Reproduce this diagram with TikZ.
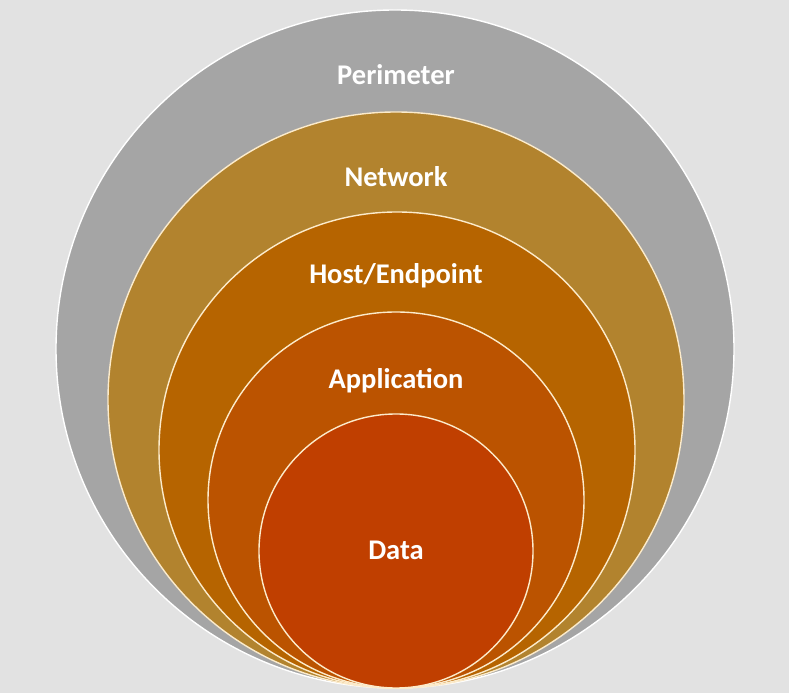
\documentclass[tikz,border=0pt]{standalone}
\usepackage{fontspec}
\setmainfont{Carlito}

\definecolor{bgGrey}{HTML}{E2E2E2}
\definecolor{perimGrey}{HTML}{A5A5A5}
\definecolor{netTan}{HTML}{B2832E}
\definecolor{hostAmber}{HTML}{B66400}
\definecolor{appOrange}{HTML}{BB5300}
\definecolor{dataRed}{HTML}{C03F00}
\definecolor{rimCream}{HTML}{FCEBCB}

\tikzset{
  layer/.style={circle, inner sep=0pt, line width=1.4pt},
  layertext/.style={text=white, font=\bfseries\fontsize{28.5}{32}\selectfont}
}

\begin{document}
\begin{tikzpicture}[x=1pt, y=1pt]
        % Background
        \fill[bgGrey] (0,0) rectangle (789,693);
        \useasboundingbox (0,0) rectangle (789,693);

        % Nodes (layers, all touching at the bottom)
        \node[layer, draw=white, fill=perimGrey, minimum size=678pt] (Perimeter) at (395, 344) {};
        \node[layer, draw=rimCream, fill=netTan, minimum size=576pt] (Network) at (396, 293) {};
        \node[layer, draw=rimCream, fill=hostAmber, minimum size=476pt] (Host) at (397, 243) {};
        \node[layer, draw=rimCream, fill=appOrange, minimum size=376pt] (Application) at (396, 193) {};
        \node[layer, draw=rimCream, fill=dataRed, minimum size=274pt] (Data) at (396, 142) {};

        % Nodes (labels)
        \node[layertext] (PerimeterLabel) at (396, 618) {Perimeter};
        \node[layertext] (NetworkLabel) at (396, 516) {Network};
        \node[layertext] (HostLabel) at (396, 417) {Host/Endpoint};
        \node[layertext] (ApplicationLabel) at (396, 312) {Application};
        \node[layertext] (DataLabel) at (396, 143) {Data};

    \end{tikzpicture}
\end{document}
